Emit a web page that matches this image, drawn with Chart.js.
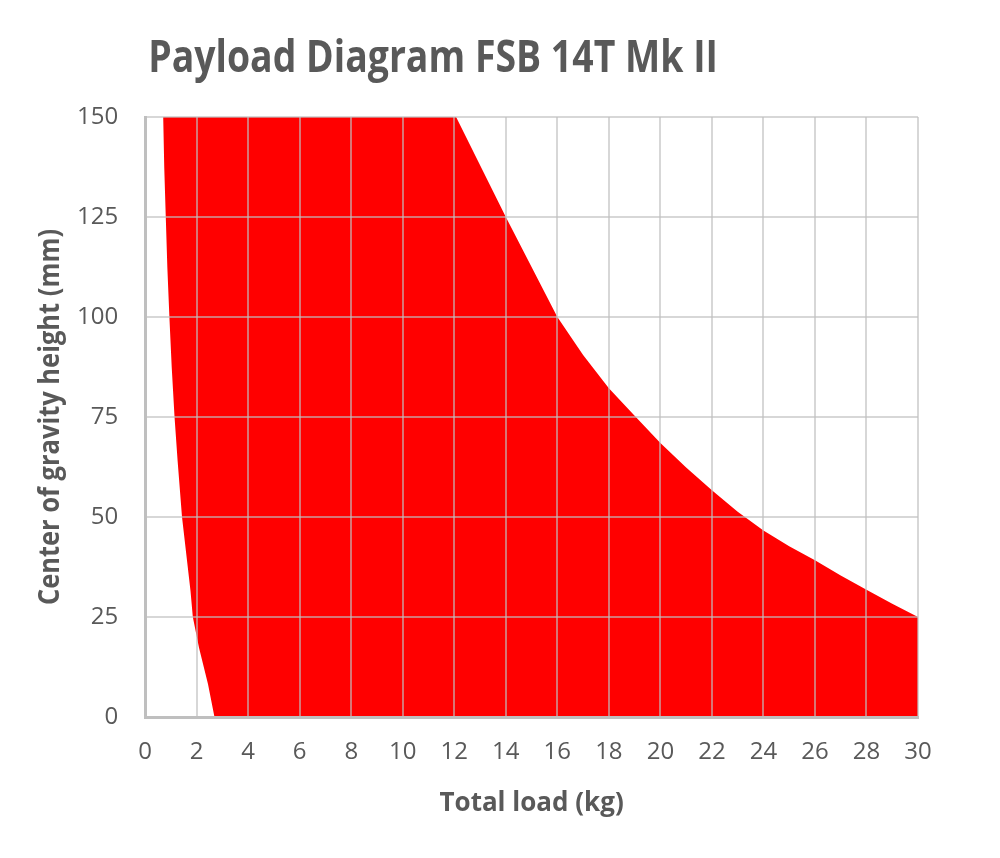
<!DOCTYPE html>
<html>
<head>
<meta charset="utf-8">
<script src="https://cdn.jsdelivr.net/npm/chart.js@4"></script>
<style>
  body { margin: 0; background: #ffffff; }
</style>
</head>
<body>
<canvas id="payload" width="1000" height="858"></canvas>
<script>
// ---------- data ----------
// left edge of the envelope (bottom -> top)
var leftLoad   = [2.69, 2.44, 2.09, 1.85, 1.76, 1.43, 1.26, 1.14, 1.03, 0.94, 0.86,  0.8, 0.74,  0.7];
var leftHeight = [0,    8.2,  17.3, 25,   31.5, 50,   64,   75,   87.5, 100,  112.5, 125, 137.5, 150];
// right edge of the envelope (top -> bottom)
var rightLoad   = [12.07, 14,  16,  17,   18,   19,   20,   21,   22,   23,   24,   25,   26,   27,   28,   29,   30, 30];
var rightHeight = [150,   125, 100, 90.5, 82.2, 75.3, 68.5, 62.4, 56.7, 51.3, 46.6, 42.7, 39.2, 35.4, 31.8, 28.3, 25, 0];

var xTicks = [0, 2, 4, 6, 8, 10, 12, 14, 16, 18, 20, 22, 24, 26, 28, 30];
var yTicks = [0, 25, 50, 75, 100, 125, 150];

var chartTitle = 'Payload Diagram FSB 14T Mk II';
var yTitle = 'Center of gravity height (mm)';
var xTitle = 'Total load (kg)';

// ---------- closed outline ----------
var outline = [];
leftLoad.forEach(function(x, i) { outline.push({ x: x, y: leftHeight[i] }); });
rightLoad.forEach(function(x, i) { outline.push({ x: x, y: rightHeight[i] }); });

var grey = '#595959';
var gridCol = 'rgba(191,191,191,0.62)';

// condensed bold titles (no Myriad here, so squeeze Open Sans a bit)
var titlesPlugin = {
    id: 'titles',
    afterDraw: function(chart) {
        var ctx = chart.ctx;
        var area = chart.chartArea;
        ctx.save();
        ctx.fillStyle = grey;
        ctx.font = 'bold 44px "Open Sans", sans-serif';
        ctx.textAlign = 'left';
        ctx.textBaseline = 'alphabetic';
        ctx.translate(area.left + 3, 72);
        ctx.scale(0.85, 1);
        ctx.fillText(chartTitle, 0, 0);
        ctx.restore();

        ctx.save();
        ctx.fillStyle = grey;
        ctx.font = 'bold 28px "Open Sans", sans-serif';
        ctx.textAlign = 'center';
        ctx.textBaseline = 'alphabetic';
        ctx.translate(59, (area.top + area.bottom) / 2);
        ctx.rotate(-Math.PI / 2);
        ctx.scale(0.91, 1);
        ctx.fillText(yTitle, 0, 0);
        ctx.restore();
    }
};

new Chart(document.getElementById('payload').getContext('2d'), {
    type: 'line',
    data: {
        datasets: [{
            label: 'Payload',
            data: outline,
            backgroundColor: '#ff0000',
            borderWidth: 0,
            pointRadius: 0,
            tension: 0,
            fill: 'shape'
        }]
    },
    plugins: [titlesPlugin],
    options: {
        responsive: false,
        animation: false,
        layout: { padding: { left: 50, right: 82, top: 117, bottom: 35 } },
        plugins: {
            legend: { display: false },
            tooltip: { enabled: false },
            title: { display: false }
        },
        scales: {
            x: {
                type: 'linear',
                min: 0,
                max: 30,
                afterBuildTicks: function(axis) {
                    axis.ticks = xTicks.map(function(v) { return { value: v }; });
                },
                grid: { color: gridCol, lineWidth: 2, z: 1, drawTicks: false },
                border: { color: '#bfbfbf', width: 3, z: 2 },
                ticks: {
                    color: grey,
                    padding: 21,
                    maxRotation: 0,
                    font: { family: "'Open Sans', sans-serif", size: 24 }
                },
                title: {
                    display: true,
                    text: xTitle,
                    color: grey,
                    padding: { top: 0, bottom: 4 },
                    font: { family: "'Open Sans', sans-serif", size: 26, weight: 'bold' }
                }
            },
            y: {
                min: 0,
                max: 150,
                afterBuildTicks: function(axis) {
                    axis.ticks = yTicks.map(function(v) { return { value: v }; });
                },
                grid: { color: gridCol, lineWidth: 2, z: 1, drawTicks: false },
                border: { color: '#bfbfbf', width: 3, z: 2 },
                ticks: {
                    color: grey,
                    padding: 27,
                    font: { family: "'Open Sans', sans-serif", size: 24 }
                }
            }
        }
    }
});
</script>
</body>
</html>
